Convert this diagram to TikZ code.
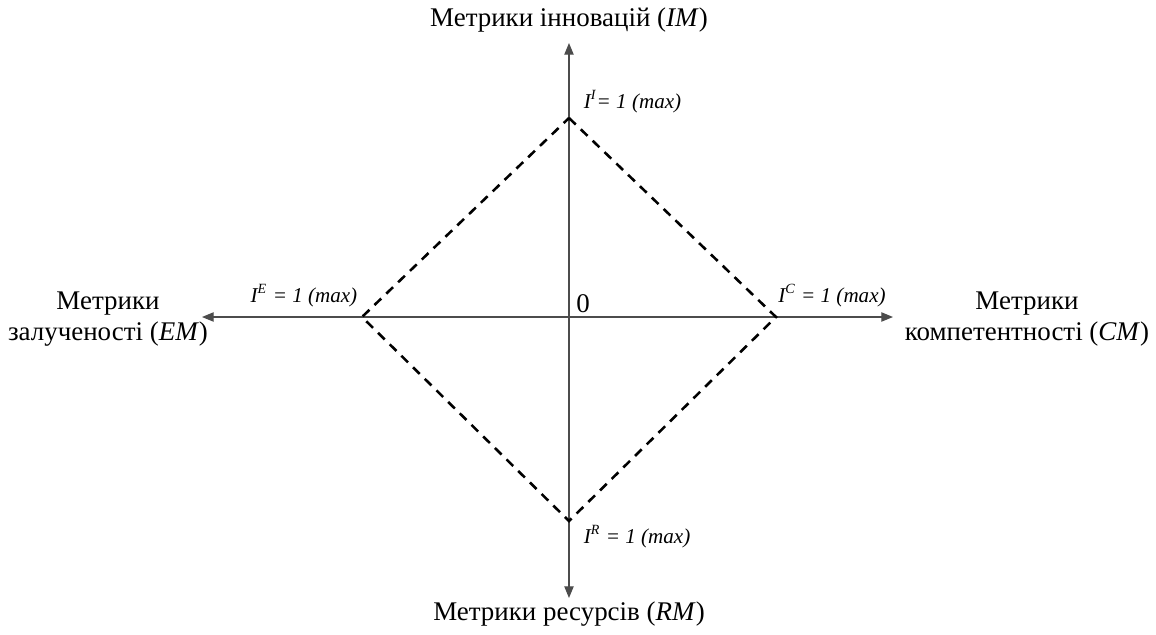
\documentclass[tikz,border=0pt]{standalone}
\usepackage{fontspec}
\setmainfont{Liberation Serif}
\usepackage{tikz}
\usetikzlibrary{arrows.meta, positioning}

\begin{document}
\begin{tikzpicture}[x=0.015cm, y=0.015cm,
            axis/.style={black!70, line width=0.5pt, -{Triangle[length=5pt, width=4pt]}},
            rhomb/.style={black, line width=1.1pt, dash pattern=on 4pt off 3pt},
            caption/.style={align=center, font=\fontsize{11.5}{13.5}\selectfont},
            lvl/.style={font=\fontsize{9}{10}\selectfont\itshape, inner sep=1pt}
          ]
          \useasboundingbox (-569,-318) rectangle (587,317);
          % origin and axis ends
          \coordinate (o) at (0,0);
          \coordinate (up) at (0,274);
          \coordinate (dn) at (0,-281);
          \coordinate (lt) at (-367,0);
          \coordinate (rt) at (324,0);
          \draw[axis] (o) -- (up);
          \draw[axis] (o) -- (dn);
          \draw[axis] (o) -- (lt);
          \draw[axis] (o) -- (rt);
          % maximum points
          \coordinate (pi) at (0,199);
          \coordinate (pc) at (207,0);
          \coordinate (pr) at (0,-204);
          \coordinate (pe) at (-207,0);
          \draw[rhomb] (pi) -- (pc) -- (pr) -- (pe) -- cycle;
          \node[lvl, anchor=west] (li) at (12,215) {I\textsuperscript{I}= 1 (max)};
          \node[lvl, anchor=west] (lr) at (12,-220) {I\textsuperscript{R} = 1 (max)};
          \node[lvl] (le) at (-265,21) {I\textsuperscript{E} = 1 (max)};
          \node[lvl] (lc) at (263,21) {I\textsuperscript{C} = 1 (max)};
          \node[caption] (zero) at (14,13) {0};
          % axis captions
          \node[caption] (im) at (0,297) {Метрики інновацій (\textit{IM})};
          \node[caption] (rm) at (0,-297) {Метрики ресурсів (\textit{RM})};
          \node[caption] (em) at (-461,-2) {Метрики\\залученості (\textit{EM})};
          \node[caption] (cm) at (458,-2) {Метрики\\компетентності (\textit{CM})};
        \end{tikzpicture}
\end{document}
